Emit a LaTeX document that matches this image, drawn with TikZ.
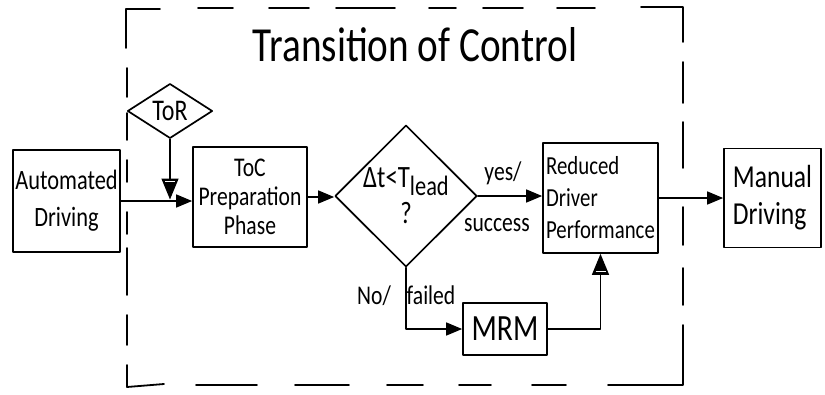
\documentclass[tikz,border=0pt]{standalone}
\usepackage{fontspec}
\setmainfont{Carlito}[FakeStretch=0.8]
\usetikzlibrary{arrows.meta,shapes.geometric}

\begin{document}
\begin{tikzpicture}[x=1pt,y=-1pt,
  line width=1.5pt, line cap=round, line join=round,
  box/.style={draw, rectangle, inner sep=2pt, line width=1.7pt},
  decision/.style={draw, diamond, inner sep=0pt, line width=1.7pt},
  arr/.style={-{Triangle[length=16pt,width=13pt]}},
  bigarr/.style={-{Triangle[length=21pt,width=17pt]}},
  band/.style={white, line width=1.2pt, line cap=butt},
  lbl/.style={font=\fontsize{27}{30}\selectfont},
  frame/.style={line width=1.8pt, line cap=round}
]
\useasboundingbox (0,0) rectangle (825,394);

% dashed boundary of the transition phase, drawn dash by dash
\draw[frame] (160,9) -- (126,9) -- (126,48);
\foreach \a/\b in {198/233, 269/309, 336/395, 429/456, 483/523, 557/595}
  \draw[frame] (\a,8) -- (\b,8);
\draw[frame] (641,7) -- (683,7) -- (683,42);
\foreach \a/\b in {62/103, 122/168, 207/245, 268/305}
  \draw[frame] (683,\a) -- (683,\b);
\draw[frame] (683,325) -- (683,385) -- (608,385);
\foreach \a/\b in {532/566, 459/491, 387/423, 295/349, 196/257}
  \draw[frame] (\a,385) -- (\b,385);
\draw[frame] (127,365) -- (127,387) -- (164,384);
\foreach \a/\b in {68/97, 113/140, 160/182, 212/234, 248/295, 315/345}
  \draw[frame] (127,\a) -- (127,\b);

\node (title) at (415,45) {\fontsize{49}{55}\selectfont Transition of Control};

% process blocks
\node[box, minimum width=107pt, minimum height=102pt, align=center,
      font=\fontsize{28}{37}\selectfont] (auto) at (66.5,201) {Automated\\Driving};
\node[box, minimum width=114pt, minimum height=100pt, align=center,
      font=\fontsize{27}{29}\selectfont] (toc) at (250,197) {ToC\\Preparation\\Phase};
\node[box, minimum width=115pt, minimum height=110pt, align=left,
      font=\fontsize{26}{32}\selectfont] (red) at (600.5,198) {Reduced\\Driver\\Performance};
\node[box, minimum width=97pt, minimum height=99pt, align=left,
      font=\fontsize{32}{37}\selectfont] (man) at (772.5,198) {Manual\\Driving};
\node[box, minimum width=84pt, minimum height=52pt, inner sep=0pt,
      font=\fontsize{37}{40}\selectfont] (mrm) at (505,329) {MRM};

% decisions
\node[decision, minimum width=85pt, minimum height=53pt,
      font=\fontsize{30}{32}\selectfont] (tor) at (170,111) {ToR};
\node[decision, minimum width=142pt, minimum height=140pt, align=center,
      font=\fontsize{31}{36}\selectfont] (dec) at (406,196)
      {Δt<T\raisebox{-8pt}{\fontsize{28}{28}\selectfont lead}\\?};

% connectors
\coordinate (join) at (tor.south |- auto.east);
\draw[arr] (auto.east) -- (auto.east -| toc.west);
\draw[bigarr] (tor.south) -- ([yshift=1.5pt]join);
\draw[arr] (toc.east) -- (toc.east -| dec.west);
\draw[arr] (dec.east) -- (dec.east -| red.west);
\draw[arr] (red.east) -- (red.east -| man.west);
\draw[arr] (dec.south) |- (mrm.west);
\draw[bigarr] (mrm.east) -| (red.south);

% light bands across the base of the two larger arrow heads
\draw[band] ([xshift=-5pt,yshift=19.5pt]join) -- ([xshift=5pt,yshift=19.5pt]join);
\draw[band] ([xshift=-5pt,yshift=-18pt]red.south) -- ([xshift=5pt,yshift=-18pt]red.south);

% branch labels
\node[lbl] (yes) at (503,173) {yes/};
\node[lbl] (succ) at (497,225) {success};
\node[lbl] (no) at (374,296) {No/};
\node[lbl] (fail) at (431,295) {failed};
\end{tikzpicture}
\end{document}
